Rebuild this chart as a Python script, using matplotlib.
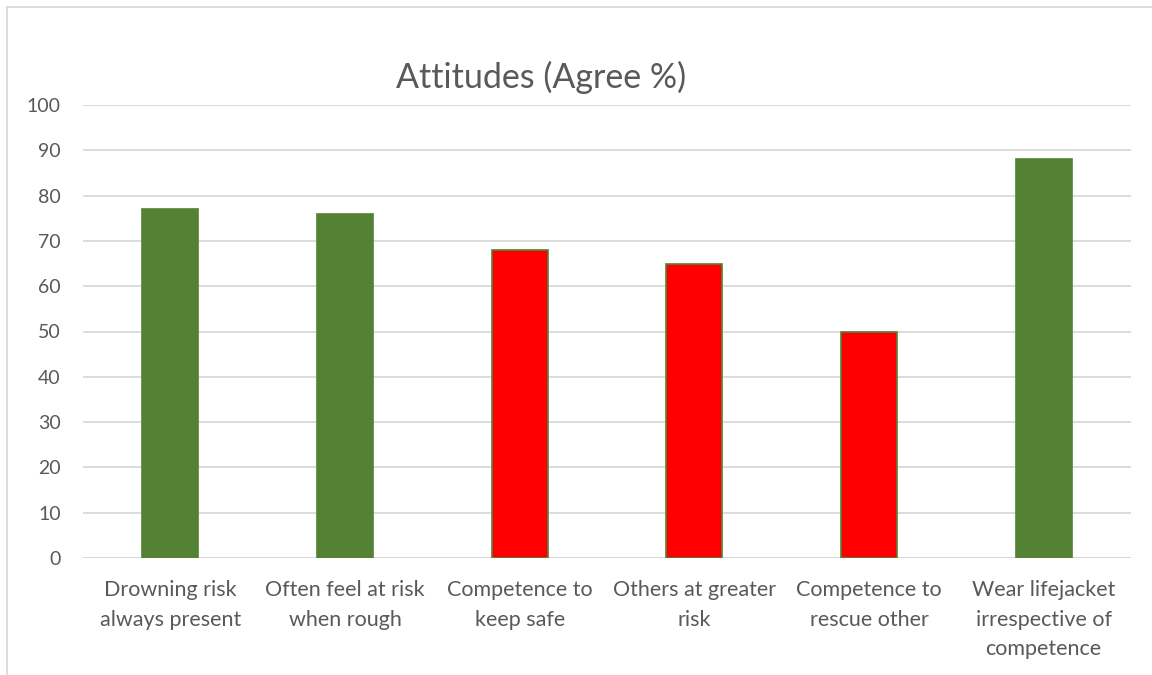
import matplotlib.pyplot as plt
from matplotlib.patches import Rectangle

# agree percentages per attitude statement
categories = [
    "Drowning risk\nalways present",
    "Often feel at risk\nwhen rough",
    "Competence to\nkeep safe",
    "Others at greater\nrisk",
    "Competence to\nrescue other",
    "Wear lifejacket\nirrespective of\ncompetence",
]
agree = [77, 76, 68, 65, 50, 88]
bar_colors = ["#548235", "#548235", "#FF0000", "#FF0000", "#FF0000", "#548235"]

plt.rcParams["font.family"] = ["Lato", "DejaVu Sans"]
text_gray = "#595959"

fig = plt.figure(figsize=(11.52, 6.75), dpi=100)
ax = fig.add_axes([83 / 1152, 1 - 558 / 675, (1131 - 83) / 1152, (558 - 105) / 675])

x = range(len(categories))
ax.bar(x, agree, width=0.32, color=bar_colors, edgecolor="#548235", linewidth=1.2, zorder=3)

ax.set_xlim(-0.5, len(categories) - 0.5)
ax.set_ylim(0, 100)
ax.set_yticks(range(0, 101, 10))
ax.set_xticks(list(x))
ax.set_xticklabels(categories)
for lbl in ax.get_xticklabels():
    lbl.set_linespacing(1.6)
    lbl.set_fontsize(15.5)
ax.yaxis.grid(True, color="#D9D9D9", linewidth=1.3, zorder=0)
ax.tick_params(axis="both", length=0, colors=text_gray)
ax.tick_params(axis="y", pad=16, labelsize=14)
ax.tick_params(axis="x", pad=16)
for spine in ax.spines.values():
    spine.set_visible(False)
ax.axhline(0, color="#D9D9D9", linewidth=1.3, zorder=1)

fig.text(541 / 1152, 1 - 77 / 675, "Attitudes (Agree %)", ha="center", va="center",
         fontsize=24.5, color=text_gray)

# chart frame (only top and left edge fall inside the image)
fig.patches.append(Rectangle((7 / 1152, -0.1), 1.2, 1 - 7 / 675 + 0.1, transform=fig.transFigure,
                             fill=False, edgecolor="#D9D9D9", linewidth=1.3))

fig.savefig("out.png", dpi=100)
